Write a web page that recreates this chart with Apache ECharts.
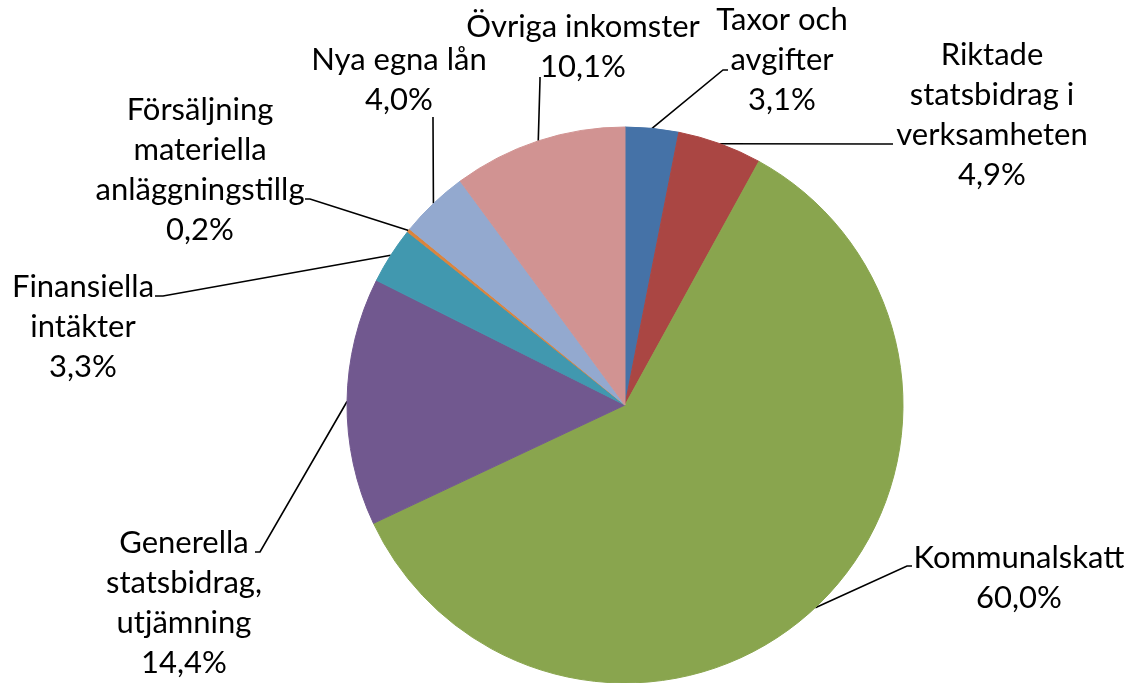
<style>body { margin: 0; }</style>
<div id="chart" style="width: 1135px; height: 683px;"></div>
<script src="https://cdn.jsdelivr.net/npm/echarts@6/dist/echarts.min.js"></script>
<script>
const chart = echarts.init(document.getElementById('chart'));

// kategorier (radbrytningar som i originalet)
const categories = [
  'Taxor och\navgifter',
  'Riktade\nstatsbidrag i\nverksamheten',
  'Kommunalskatt',
  'Generella\nstatsbidrag,\nutjämning',
  'Finansiella\nintäkter',
  'Försäljning\nmateriella\nanläggningstillg',
  'Nya egna lån',
  'Övriga inkomster'
];
// andel i procent
const shares = [3.1, 4.9, 60.0, 14.4, 3.3, 0.2, 4.0, 10.1];
const colors = ['#4572A7', '#AA4643', '#89A54E', '#71588F', '#4198AF', '#DB843D', '#93A9CF', '#D19392'];

// etikettplacering: mittpunkt för etiketten + knä och slutpunkt för linjen
const labelPlaces = [
  { x: 782, y: 60, line: [[723, 70], [728, 70]] },
  { x: 992, y: 115, line: [[880, 144], [893, 144]] },
  { x: 1019, y: 578, line: [[907, 566], [912, 566]] },
  { x: 184, y: 603, line: [[260, 552], [255, 552]] },
  { x: 83, y: 327, line: [[163, 296], [155, 296]] },
  { x: 200, y: 170, line: [[310, 199], [305, 199]] },
  { x: 399, y: 80, line: [[433, 120], [433, 117]] },
  { x: 583, y: 47, line: [[540, 80], [540, 77]] }
];

function fmtPct(v) {
  return v.toFixed(1).replace('.', ',') + '%';
}

const option = {
  animation: false,
  series: [
    {
      type: 'pie',
      center: [625, 405],
      radius: 278,
      startAngle: 90,
      clockwise: true,
      avoidLabelOverlap: false,
      data: categories.map((name, i) => ({
        name: name,
        value: shares[i],
        // kantlinje i samma färg döljer glipor mellan sektorerna
        itemStyle: { color: colors[i], borderColor: colors[i], borderWidth: 1 }
      })),
      label: {
        show: true,
        position: 'outside',
        formatter: p => p.name + '\n' + fmtPct(p.value),
        fontFamily: 'Lato',
        fontSize: 31,
        lineHeight: 40,
        color: '#000',
        align: 'center'
      },
      labelLine: {
        show: true,
        length: 10,
        length2: 10,
        lineStyle: { color: '#000', width: 1.6 }
      },
      labelLayout: function (params) {
        const place = labelPlaces[params.dataIndex];
        const pts = params.labelLinePoints;
        const start = pts ? pts[0] : place.line[0];
        return {
          x: place.x,
          y: place.y,
          align: 'center',
          verticalAlign: 'middle',
          labelLinePoints: [start, place.line[0], place.line[1]]
        };
      }
    }
  ]
};

chart.setOption(option);
</script>
